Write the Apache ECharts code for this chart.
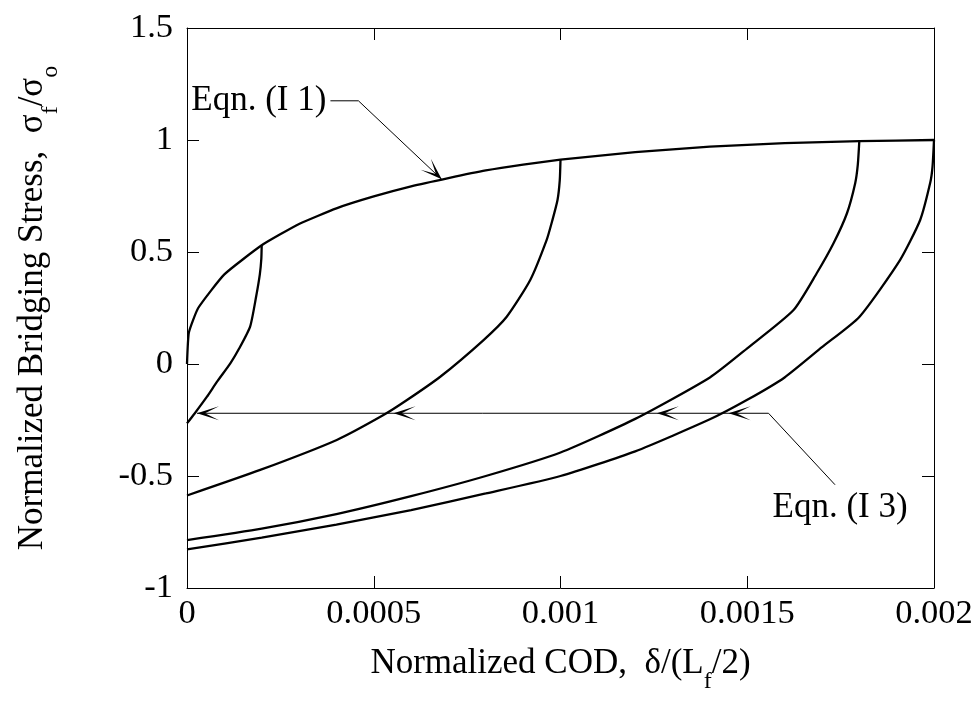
<!DOCTYPE html>
<html>
<head>
<meta charset="utf-8">
<script src="https://cdn.jsdelivr.net/npm/echarts@6/dist/echarts.min.js"></script>
<style>
html,body{margin:0;padding:0;background:#fff;}
#main{width:977px;height:702px;}
</style>
</head>
<body>
<div id="main"></div>
<script>
// ---- data ----
const envelopeX = [0, 0.000005, 0.00003, 0.0001, 0.0002, 0.0003, 0.0004, 0.0005, 0.0006, 0.0007, 0.0008, 0.0009, 0.001, 0.0012, 0.0014, 0.0016, 0.0018, 0.002];
const envelopeY = [0, 0.14, 0.25, 0.40, 0.53, 0.625, 0.695, 0.748, 0.793, 0.83, 0.864, 0.89, 0.912, 0.946, 0.97, 0.986, 0.995, 1.0];

const unload1X = [0.0002, 0.000199, 0.000195, 0.000185, 0.000169, 0.00014, 0.000116, 0.00008, 0.0000535, 0.00002, 0];
const unload1Y = [0.53, 0.47, 0.40, 0.30, 0.167, 0.07, 0.003, -0.08, -0.146, -0.222, -0.265];

const unload2X = [0.001, 0.000998, 0.000992, 0.000978, 0.000963, 0.000919, 0.000856, 0.000794, 0.000678, 0.000589, 0.000526, 0.000401, 0.000196, 0];
const unload2Y = [0.912, 0.82, 0.732, 0.64, 0.554, 0.375, 0.211, 0.107, -0.057, -0.161, -0.228, -0.339, -0.473, -0.587];

const unload3X = [0.0018, 0.001796, 0.001789, 0.001767, 0.001731, 0.001686, 0.001624, 0.0015, 0.0014, 0.0012, 0.001, 0.0008, 0.0006, 0.0004, 0.0002, 0];
const unload3Y = [0.995, 0.89, 0.807, 0.673, 0.539, 0.405, 0.241, 0.07, -0.06, -0.245, -0.395, -0.5, -0.59, -0.67, -0.735, -0.786];

const unload4X = [0.002, 0.001996, 0.00199, 0.001963, 0.001909, 0.0018, 0.0017, 0.0016, 0.0015, 0.0014, 0.0012, 0.001, 0.0008, 0.0006, 0.0004, 0.0002, 0];
const unload4Y = [1.0, 0.88, 0.81, 0.643, 0.464, 0.21, 0.075, -0.06, -0.16, -0.247, -0.39, -0.5, -0.578, -0.652, -0.717, -0.775, -0.828];

// Eqn. (I 3) horizontal arrow line and arrow tips
const arrowLineY = -0.22;
const arrowLineX = [0.0000268, 0.001557];
const arrowTipsX = [0.0000268, 0.000553, 0.001258, 0.00145];
const leaderI3X = [0.001557, 0.001735];
const leaderI3Y = [-0.22, -0.539];
const labelI3 = [0.0017485, -0.643];

// Eqn. (I 1) leader
const leaderI1X = [0.000384, 0.000459, 0.000682];
const leaderI1Y = [1.175, 1.175, 0.824];

const xTicks = [0, 0.0005, 0.001, 0.0015, 0.002];
const xTickLabels = ['0', '0.0005', '0.001', '0.0015', '0.002'];
const yTicks = [-1, -0.5, 0, 0.5, 1, 1.5];
const yTickLabels = ['-1', '-0.5', '0', '0.5', '1', '1.5'];

// ---- helpers ----
const zip = (xs, ys) => xs.map((x, i) => [x, ys[i]]);
const FONT = 'Liberation Serif';
const FS = 34.5;
const FT = 35;
const richTitle = {
  a: { fontFamily: FONT, fontSize: FT, color: '#000', lineHeight: 60 },
  s: { fontFamily: FONT, fontSize: 24, color: '#000', lineHeight: 20, verticalAlign: 'bottom' }
};
const curveStyle = { color: '#000', width: 2.3 };
const thin = { color: '#000', width: 1 };

function lineSeries(data, style, smooth) {
  return { type: 'line', data: data, showSymbol: false, symbol: 'none', lineStyle: style,
           smooth: smooth || false,
           xAxisIndex: 0, yAxisIndex: 0, animation: false, silent: true, z: 3 };
}

const arrowPath = 'path://M0,7L22,0L8,7L22,14Z';

const axisCommon = {
  type: 'value',
  axisLine: { show: true, onZero: false, lineStyle: { color: '#000', width: 1 } },
  axisTick: { show: true, inside: true, length: 12, lineStyle: { color: '#000', width: 1 } },
  splitLine: { show: false }
};

const option = {
  backgroundColor: '#fff',
  animation: false,
  grid: { left: 187, right: 43, top: 28, bottom: 114, containLabel: false, outerBoundsMode: 'none' },
  xAxis: [
    Object.assign({}, axisCommon, {
      min: 0, max: 0.002, interval: 0.0005, position: 'bottom',
      axisLabel: { fontFamily: FONT, fontSize: FS, color: '#000', margin: 8,
        formatter: v => { const i = xTicks.findIndex(t => Math.abs(t - v) < 1e-9); return i >= 0 ? xTickLabels[i] : ''; } },
      name: '{a|Normalized COD,  δ/(L}{s|f}{a|/2)}',
      nameLocation: 'middle', nameGap: 46,
      nameTextStyle: { rich: richTitle }
    }),
    Object.assign({}, axisCommon, {
      min: 0, max: 0.002, interval: 0.0005, position: 'top',
      axisLabel: { show: false }
    })
  ],
  yAxis: [
    Object.assign({}, axisCommon, {
      min: -1, max: 1.5, interval: 0.5, position: 'left',
      axisLabel: { fontFamily: FONT, fontSize: FS, color: '#000', margin: 14,
        formatter: v => { const i = yTicks.findIndex(t => Math.abs(t - v) < 1e-9); return i >= 0 ? yTickLabels[i] : ''; } },
      name: '{a|Normalized Bridging Stress,  σ}{s|f}{a|/σ}{s|o}',
      nameLocation: 'middle', nameGap: 124,
      nameTextStyle: { rich: richTitle }
    }),
    Object.assign({}, axisCommon, {
      min: -1, max: 1.5, interval: 0.5, position: 'right',
      axisLabel: { show: false }
    })
  ],
  series: [
    lineSeries(zip(envelopeX, envelopeY), curveStyle, 0.15),
    lineSeries(zip(unload1X, unload1Y), curveStyle, 0.2),
    lineSeries(zip(unload2X, unload2Y), curveStyle, 0.2),
    lineSeries(zip(unload3X, unload3Y), curveStyle, 0.2),
    lineSeries(zip(unload4X, unload4Y), curveStyle, 0.2),
    lineSeries(arrowLineX.map(x => [x, arrowLineY]), thin),
    lineSeries(zip(leaderI3X, leaderI3Y), thin),
    lineSeries(zip(leaderI1X, leaderI1Y), thin),
    { // arrow heads on the horizontal line
      type: 'scatter', xAxisIndex: 0, yAxisIndex: 0, silent: true, z: 4,
      symbol: arrowPath, symbolSize: [22, 14], symbolOffset: [11, 0],
      itemStyle: { color: '#000', opacity: 1 },
      data: arrowTipsX.map(x => [x, arrowLineY])
    },
    { // arrow head for Eqn. (I 1)
      type: 'scatter', xAxisIndex: 0, yAxisIndex: 0, silent: true, z: 4,
      symbol: arrowPath, symbolSize: [22, 15], symbolOffset: [-8, -7.6], symbolRotate: 136.7,
      itemStyle: { color: '#000', opacity: 1 },
      data: [[leaderI1X[2], leaderI1Y[2]]]
    },
    { // labels
      type: 'scatter', xAxisIndex: 0, yAxisIndex: 0, silent: true, z: 5,
      symbolSize: 0,
      itemStyle: { color: '#000', opacity: 1 },
      label: { show: true, fontFamily: FONT, fontSize: FT, color: '#000', textBorderWidth: 0,
               formatter: p => p.data.name },
      data: [
        { value: [leaderI1X[0], leaderI1Y[0]], name: 'Eqn. (I 1)', label: { position: 'left', distance: 4 } },
        { value: labelI3, name: 'Eqn. (I 3)', label: { position: 'inside' } }
      ]
    }
  ]
};

const chart = echarts.init(document.getElementById('main'), null, { renderer: 'canvas' });
chart.setOption(option);
</script>
</body>
</html>
